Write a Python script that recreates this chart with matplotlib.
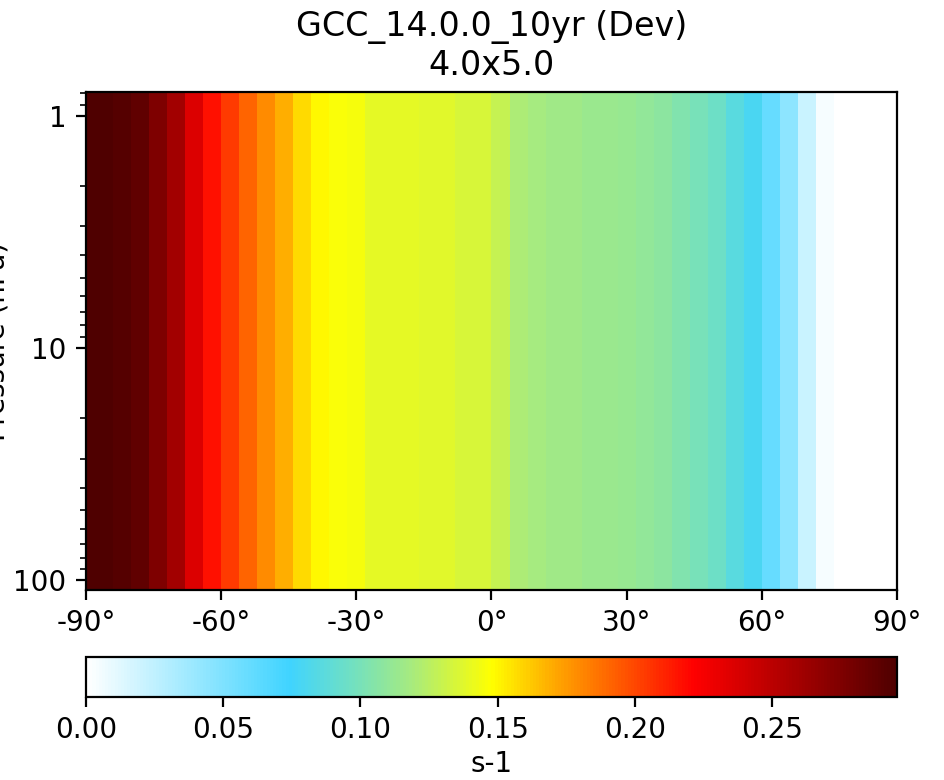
import numpy as np
import matplotlib
matplotlib.use("Agg")
import matplotlib.pyplot as plt
from matplotlib.colors import LinearSegmentedColormap
from matplotlib.ticker import ScalarFormatter, FuncFormatter

# Зональное среднее, сетка 4x5: границы широтных ячеек
lat_edges = [-90, -88] + list(range(-84, 88, 4)) + [88, 90]

# Значения по широтам (s-1), с юга на север
zonal_vals = [0.295, 0.295, 0.293, 0.288, 0.275, 0.260, 0.236, 0.216, 0.204,
              0.191, 0.179, 0.169, 0.158, 0.150, 0.146, 0.145, 0.139, 0.139,
              0.139, 0.138, 0.138, 0.134, 0.134, 0.129, 0.121, 0.118, 0.116,
              0.116, 0.114, 0.114, 0.113, 0.110, 0.108, 0.103, 0.100, 0.095,
              0.086, 0.079, 0.060, 0.044, 0.021, 0.004, 0.0, 0.0, 0.0, 0.0]

# Границы уровней давления (hPa)
pres_edges = [110.4, 91.9, 74.9, 60.9, 49.4, 39.9, 32.2, 25.9, 20.7, 16.5,
              13.1, 10.3, 8.1, 6.2, 4.8, 3.6, 2.8, 2.08, 1.57, 1.11, 0.79]

vmin, vmax = 0.0, 0.2955

# Палитра WhGrYlRd (приближение)
cmap = LinearSegmentedColormap.from_list("WhGrYlRd", [
    (0.00, (1.00, 1.00, 1.00)),
    (0.25, (0.25, 0.83, 1.00)),
    (0.33, (0.45, 0.88, 0.75)),
    (0.40, (0.65, 0.92, 0.50)),
    (0.50, (1.00, 1.00, 0.00)),
    (0.58, (1.00, 0.65, 0.00)),
    (0.75, (1.00, 0.00, 0.00)),
    (1.00, (0.31, 0.00, 0.00)),
])

data = np.tile(np.array(zonal_vals), (len(pres_edges) - 1, 1))

fig = plt.figure(figsize=(4.72, 3.9), dpi=200)
ax = fig.add_axes([0.0911, 0.2436, 0.8591, 0.6385])
mesh = ax.pcolormesh(lat_edges, pres_edges, data, cmap=cmap, vmin=vmin, vmax=vmax)

ax.set_yscale("log")
ax.set_ylim(max(pres_edges), min(pres_edges))
ax.set_xlim(-90, 90)
ax.yaxis.set_major_formatter(ScalarFormatter())
ax.set_xticks(range(-90, 91, 30))
ax.xaxis.set_major_formatter(FuncFormatter(lambda v, p: f"{int(v)}\u00b0"))
ax.set_ylabel("Pressure (hPa)", labelpad=1)
ax.set_title("GCC_14.0.0_10yr (Dev)\n4.0x5.0")

cax = fig.add_axes([0.0911, 0.1064, 0.8591, 0.0513])
cb = fig.colorbar(mesh, cax=cax, orientation="horizontal")
cb.set_ticks([0.0, 0.05, 0.10, 0.15, 0.20, 0.25])
cb.ax.xaxis.set_major_formatter(FuncFormatter(lambda v, p: f"{v:.2f}"))
cb.set_label("s-1", labelpad=2)

fig.savefig("out.png", dpi=200)
